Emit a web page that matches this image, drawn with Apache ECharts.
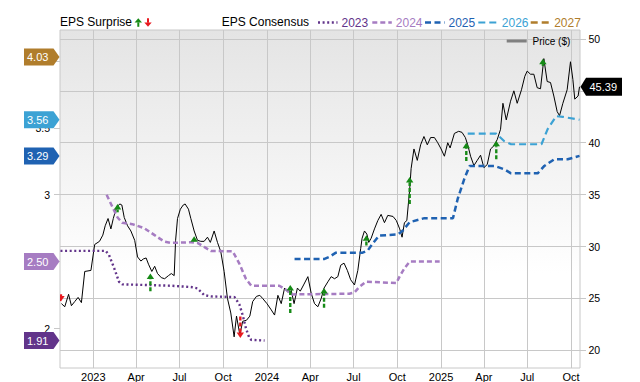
<!DOCTYPE html>
<html><head><meta charset="utf-8">
<script src="https://cdn.jsdelivr.net/npm/echarts@6/dist/echarts.min.js"></script>
<style>html,body{margin:0;padding:0;background:#fff}#c{width:640px;height:382px}</style>
</head><body><div id="c"></div>
<script>
// ---------- data ----------
const xTickDates = ['2023-01-01','2023-04-01','2023-07-01','2023-10-01','2024-01-01','2024-04-01','2024-07-01','2024-10-01','2025-01-01','2025-04-01','2025-07-01','2025-10-01'];
const xTickLabels = ['2023','Apr','Jul','Oct','2024','Apr','Jul','Oct','2025','Apr','Jul','Oct'];
const epsTicks = [2, 2.5, 3, 3.5, 4];
const epsTickLabels = [2, 3, 3.5];          // others are covered by the value flags
const priceTicks = [20, 25, 30, 35, 40, 45, 50];
const priceTickLabels = [20, 25, 30, 35, 40, 50]; // 45 is covered by the price flag

const priceDates = ['2022-10-26','2022-11-02','2022-11-10','2022-11-16','2022-11-23','2022-11-30','2022-12-07','2022-12-14','2022-12-27',
'2023-01-02','2023-01-04','2023-01-14','2023-01-21','2023-01-26','2023-02-01','2023-02-07','2023-02-12','2023-02-17','2023-02-21','2023-02-26',
'2023-03-02','2023-03-07','2023-03-14','2023-03-21','2023-03-29','2023-04-04','2023-04-11','2023-04-16','2023-04-22','2023-04-27',
'2023-05-04','2023-05-10','2023-05-16','2023-05-24','2023-05-31','2023-06-08','2023-06-14','2023-06-20','2023-06-23','2023-06-27',
'2023-07-03','2023-07-09','2023-07-13','2023-07-20','2023-07-25','2023-08-01','2023-08-08','2023-08-15','2023-08-22','2023-08-29',
'2023-09-04','2023-09-12','2023-09-19','2023-09-26','2023-10-03','2023-10-10','2023-10-17','2023-10-24','2023-10-29','2023-11-05',
'2023-11-11','2023-11-19','2023-11-26','2023-12-02','2023-12-10','2023-12-17','2023-12-23','2024-01-01','2024-01-10','2024-01-17',
'2024-01-24','2024-01-31','2024-02-07','2024-02-14','2024-02-20','2024-02-27','2024-03-05','2024-03-11','2024-03-18','2024-03-27',
'2024-04-03','2024-04-10','2024-04-17','2024-04-24','2024-04-30','2024-05-08','2024-05-15','2024-05-22','2024-05-29','2024-06-04',
'2024-06-11','2024-06-18','2024-06-25','2024-07-03','2024-07-10','2024-07-16','2024-07-19','2024-07-24','2024-07-29','2024-08-02',
'2024-08-07','2024-08-14','2024-08-21','2024-08-28','2024-09-04','2024-09-11','2024-09-22','2024-09-29','2024-10-06','2024-10-11',
'2024-10-16','2024-10-21','2024-10-27','2024-10-30','2024-11-05','2024-11-12','2024-11-19','2024-11-26','2024-12-03','2024-12-10',
'2024-12-18','2024-12-25','2025-01-01','2025-01-08','2025-01-15','2025-01-20','2025-01-29','2025-02-07','2025-02-14','2025-02-21',
'2025-02-26','2025-03-04','2025-03-11','2025-03-18','2025-03-25','2025-04-01','2025-04-08','2025-04-15','2025-04-22','2025-04-29',
'2025-05-06','2025-05-11','2025-05-18','2025-05-27','2025-06-03','2025-06-10','2025-06-19','2025-06-26','2025-07-01','2025-07-08',
'2025-07-15','2025-07-22','2025-07-29','2025-08-05','2025-08-12','2025-08-19','2025-08-26','2025-09-02','2025-09-07','2025-09-14',
'2025-09-23','2025-09-30','2025-10-05','2025-10-09','2025-10-16','2025-10-19'];
const priceValues = [24.5,24.2,25.4,24.3,24.7,25.1,24.6,27.6,27.7,
29.6,30.2,30.5,31.1,32.0,32.7,31.7,32.7,33.5,33.9,34.1,
34.0,32.8,32.0,31.5,30.6,29.0,28.6,28.8,28.9,28.3,
27.6,28.1,27.4,27.0,26.9,27.2,27.4,27.2,30.6,32.7,
33.6,34.0,34.1,33.6,32.7,31.5,30.6,30.5,30.5,30.9,
30.4,31.5,30.4,29.5,27.6,25.0,23.6,21.3,23.3,21.5,
22.8,22.9,23.3,24.7,25.2,25.3,25.0,24.5,23.9,23.4,
25.3,24.5,26.0,25.6,26.0,24.5,26.0,25.7,26.3,27.1,
25.5,24.5,24.2,25.0,26.0,26.6,27.1,26.9,27.1,28.2,
28.4,27.7,26.8,26.3,27.7,29.8,30.8,31.5,31.2,30.4,
30.8,31.7,32.5,33.1,32.3,33.0,32.9,32.5,31.7,30.9,
32.3,32.5,35.5,37.5,39.4,38.3,39.8,40.6,39.8,40.5,
40.5,40.0,39.4,38.7,40.0,39.5,40.9,41.1,41.0,40.5,
39.8,38.7,37.8,38.3,38.8,37.6,37.9,39.4,39.7,40.3,
41.3,43.8,42.2,44.0,45.0,43.8,45.1,46.4,46.9,46.6,
46.6,45.3,45.2,48.1,45.9,45.8,44.5,43.0,42.6,43.8,
45.1,47.8,46.1,44.2,44.5,45.39];

const eps2023Dates = ['2022-10-24','2023-01-27','2023-02-03','2023-02-14','2023-02-24','2023-03-03','2023-06-13','2023-07-25','2023-08-08','2023-08-22','2023-09-05','2023-10-25','2023-11-04','2023-11-11','2023-11-18','2023-11-25','2023-11-29','2023-12-27'];
const eps2023Values = [2.58,2.58,2.55,2.45,2.35,2.33,2.32,2.31,2.30,2.25,2.24,2.235,2.18,2.10,2.00,1.93,1.915,1.91];
const eps2024Dates = ['2023-01-29','2023-02-10','2023-02-21','2023-03-03','2023-03-24','2023-04-18','2023-05-09','2023-05-30','2023-06-13','2023-07-25','2023-08-08','2023-08-22','2023-09-05','2023-10-21','2023-11-04','2023-11-18','2023-11-29','2024-01-27','2024-02-10','2024-02-24','2024-06-22','2024-07-03','2024-07-13','2024-07-27','2024-09-29','2024-10-06','2024-10-16','2024-10-27','2024-12-29'];
const eps2024Values = [3.00,2.91,2.83,2.79,2.78,2.75,2.70,2.65,2.64,2.645,2.64,2.61,2.58,2.577,2.485,2.37,2.32,2.32,2.29,2.255,2.26,2.27,2.31,2.35,2.34,2.39,2.45,2.50,2.50];
const eps2025Dates = ['2024-02-28','2024-05-01','2024-05-11','2024-05-25','2024-07-20','2024-07-31','2024-08-10','2024-08-24','2024-10-02','2024-10-12','2024-10-27','2024-11-27','2025-01-26','2025-02-05','2025-02-19','2025-03-02','2025-04-23','2025-05-14','2025-05-28','2025-07-23','2025-08-06','2025-08-27','2025-09-24','2025-10-19'];
const eps2025Values = [2.52,2.52,2.535,2.567,2.567,2.584,2.634,2.695,2.703,2.73,2.795,2.825,2.825,2.97,3.12,3.215,3.215,3.19,3.16,3.16,3.215,3.265,3.265,3.29];
const eps2026Dates = ['2025-02-26','2025-04-27','2025-05-14','2025-05-28','2025-07-31','2025-08-13','2025-08-31','2025-09-14','2025-10-19'];
const eps2026Values = [3.456,3.456,3.40,3.377,3.377,3.49,3.587,3.582,3.56];
const eps2027Dates = ['2025-10-19'];
const eps2027Values = [4.03];

const surpriseDates = ['2022-10-25','2023-02-21','2023-05-01','2023-08-01','2023-11-06','2024-02-19','2024-04-30','2024-07-28','2024-10-27','2025-02-23','2025-04-27','2025-08-03'];
const surpriseFrom = [25.4,33.3,25.7,30.5,23.25,23.6,24.1,30.1,34.1,38.25,38.4,47.4];
const surpriseTo   = [24.7,34.1,27.4,31.0,21.2,26.3,26.0,31.1,36.7,40.0,40.2,48.1];

const seriesNames = ['2023','2024','2025','2026','2027'];
// ---------- styles ----------
const FONT = 'Liberation Sans, Arial, sans-serif';
const colors = {'2023':'#62348a','2024':'#a67cc2','2025':'#1f62b2','2026':'#3ca2d4','2027':'#b07d2c'};
const dashes = {'2023':[2,2.6],'2024':[5,3],'2025':[6,3.5],'2026':[7,4],'2027':[7,4]};
const widths = {'2023':2.4,'2024':2.5,'2025':2.5,'2026':2.2,'2027':2.4};
const legendX = {'2023':318,'2024':372.3,'2025':425,'2026':478.3,'2027':530.7};
const GRID = '#c8c8c8';

function ts(s){ const p = s.split('-').map(Number); return new Date(p[0], p[1]-1, p[2]).getTime(); }
const xTickTs = xTickDates.map(ts);
function zipDates(d, v){ return d.map((x,i)=>[ts(x), v[i]]); }

const epsData = {
  '2023': zipDates(eps2023Dates, eps2023Values),
  '2024': zipDates(eps2024Dates, eps2024Values),
  '2025': zipDates(eps2025Dates, eps2025Values),
  '2026': zipDates(eps2026Dates, eps2026Values),
  '2027': zipDates(eps2027Dates, eps2027Values)
};

const chart = echarts.init(document.getElementById('c'), null, {renderer:'svg', width:640, height:382});

const series = [];
series.push({
  name:'Price ($)', type:'line', yAxisIndex:1, symbol:'none', z:2,
  data: zipDates(priceDates, priceValues),
  lineStyle:{color:'#000', width:1}, itemStyle:{color:'#000'}
});
seriesNames.forEach(n=>{
  series.push({
    name:n, type:'line', yAxisIndex:0, symbol:'none', z:3,
    data: epsData[n],
    lineStyle:{color:colors[n], width:widths[n], type:dashes[n]},
    itemStyle:{color:colors[n]}
  });
});
series.push({
  name:'surprise', type:'custom', yAxisIndex:1, clip:true, z:6,
  data: surpriseDates.map((d,i)=>[ts(d), surpriseFrom[i], surpriseTo[i]]),
  encode:{x:0, y:[1,2]},
  renderItem(params, api){
    const base = api.coord([api.value(0), api.value(1)]);
    const tip = api.coord([api.value(0), api.value(2)]);
    const up = tip[1] < base[1];
    const color = up ? '#168a16' : '#e8181e';
    const hh = 5.5, hw = 3.7;
    const hy = tip[1] + (up ? hh : -hh);
    return {type:'group', children:[
      {type:'line', shape:{x1:base[0], y1:base[1], x2:tip[0], y2:hy}, style:{stroke:color, lineWidth:2.4, lineDash:[4,2]}},
      {type:'polygon', shape:{points:[[tip[0],tip[1]],[tip[0]-hw,hy],[tip[0]+hw,hy]]}, style:{fill:color}}
    ]};
  }
});

chart.setOption({
  animation:false,
  textStyle:{fontFamily:FONT},
  grid:{left:60, right:60, top:30, bottom:12, show:true, borderColor:GRID, borderWidth:1,
    backgroundColor: new echarts.graphic.LinearGradient(0,0,0,1,[{offset:0,color:'#e4e4e4'},{offset:0.72,color:'#ffffff'},{offset:1,color:'#ffffff'}])},
  xAxis:{type:'value', min:ts('2022-10-23'), max:ts('2025-10-20'),
    axisLine:{show:false}, axisTick:{show:false, customValues:xTickTs},
    axisLabel:{customValues:xTickTs, fontSize:11, color:'#000', margin:3, fontFamily:FONT,
      formatter:(v)=>{ let best=0, bd=Infinity; xTickTs.forEach((t,i)=>{const d=Math.abs(t-v); if(d<bd){bd=d;best=i;}}); return xTickLabels[best]; }},
    splitLine:{show:true, lineStyle:{color:GRID, width:1}}},
  yAxis:[
    {type:'value', position:'left', min:1.705, max:4.231,
      axisLine:{show:false}, axisTick:{show:true, length:6, customValues:epsTicks, lineStyle:{color:GRID}},
      axisLabel:{customValues:epsTickLabels, fontSize:10.5, color:'#000', margin:10, fontFamily:FONT, formatter:(v)=>String(v)},
      splitLine:{show:false}},
    {type:'value', position:'right', min:18.3, max:50.86,
      axisLine:{show:false}, axisTick:{show:true, length:6, customValues:priceTicks, lineStyle:{color:GRID}},
      axisLabel:{customValues:priceTickLabels, fontSize:10.5, color:'#000', margin:8.5, fontFamily:FONT},
      splitLine:{show:true, lineStyle:{color:GRID, width:1}}}
  ],
  series
});

// legend, flags and headers
const g = [];
g.push({type:'text', left:60, top:16, z:100, style:{text:'EPS Surprise', fontSize:12, fontFamily:FONT, fill:'#000'}});
g.push({type:'text', left:221.7, top:16, z:100, style:{text:'EPS Consensus', fontSize:12, fontFamily:FONT, fill:'#000'}});
g.push({type:'polygon', z:100, shape:{points:[[138.3,18.3],[134.6,22.6],[142,22.6]]}, style:{fill:'#168a16'}});
g.push({type:'rect', z:100, shape:{x:137.3, y:22.4, width:2, height:4.4}, style:{fill:'#168a16'}});
g.push({type:'polygon', z:100, shape:{points:[[148,26.8],[144.3,22.5],[151.7,22.5]]}, style:{fill:'#e8181e'}});
g.push({type:'rect', z:100, shape:{x:147, y:18.3, width:2, height:4.4}, style:{fill:'#e8181e'}});

seriesNames.forEach(n=>{
  const lx = legendX[n];
  g.push({type:'line', z:100, shape:{x1:lx, y1:22.5, x2:lx+19.5, y2:22.5}, style:{stroke:colors[n], lineWidth:widths[n], lineDash:dashes[n]}});
  g.push({type:'text', z:100, x:lx+23.5, y:22.5, style:{text:n, fontSize:12, fontFamily:FONT, fill:colors[n], verticalAlign:'middle', align:'left'}});
});
g.push({type:'line', z:100, shape:{x1:506.7, y1:41, x2:526.7, y2:41}, style:{stroke:'#808080', lineWidth:3}});
g.push({type:'text', z:100, x:532.5, y:41.5, style:{text:'Price ($)', fontSize:10, fontFamily:FONT, fill:'#000', verticalAlign:'middle', align:'left'}});

seriesNames.forEach(n=>{
  const vals = epsData[n];
  const last = vals[vals.length-1][1];
  const cy = chart.convertToPixel({yAxisIndex:0}, last);
  g.push({type:'polygon', z:100, shape:{points:[[24,cy-8.5],[53.5,cy-8.5],[59.5,cy],[53.5,cy+8.5],[24,cy+8.5]]}, style:{fill:colors[n]}});
  g.push({type:'text', z:101, x:27, y:cy, style:{text:last.toFixed(2), fontSize:11, fontFamily:FONT, fill:'#fff', verticalAlign:'middle', align:'left'}});
});
const lastPrice = priceValues[priceValues.length-1];
const py = chart.convertToPixel({yAxisIndex:1}, lastPrice);
g.push({type:'polygon', z:100, shape:{points:[[580.5,py],[586,py-9],[622,py-9],[622,py+9],[586,py+9]]}, style:{fill:'#000'}});
g.push({type:'text', z:101, x:589.5, y:py, style:{text:lastPrice.toFixed(2), fontSize:11, fontFamily:FONT, fill:'#fff', verticalAlign:'middle', align:'left'}});

chart.setOption({graphic:g});
</script>
</body></html>
